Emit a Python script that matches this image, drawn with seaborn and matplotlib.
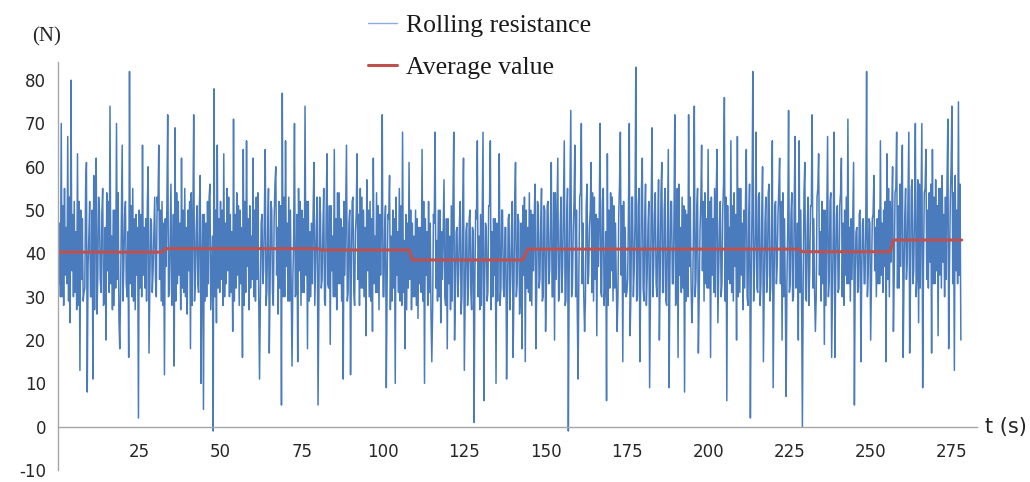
import numpy as np
import pandas as pd
import matplotlib
matplotlib.use("Agg")
import matplotlib.pyplot as plt
import seaborn as sns

# ---- data (rolling resistance, N) ----
# main swings (incl. the spikes), one pair of values per second
force_0_25 = [48, 30, 70, 28, 55, 33, 67, 24, 80, 30,
              52, 27, 63, 13, 50, 29, 31, 61, 8, 52,
              30, 11, 58, 62, 26, 50, 34, 55, 28, 20,
              54, 31, 74, 27, 50, 32, 70, 25, 18, 65,
              29, 52, 33, 16, 82, 30, 55, 27, 49, 2]
force_25_50 = [50, 30, 65, 32, 48, 60, 17, 47, 31, 53,
               34, 50, 65, 29, 52, 12, 48, 72, 30, 56,
               28, 14, 69, 33, 52, 27, 62, 31, 55, 26,
               50, 18, 54, 72, 29, 51, 33, 58, 10, 4,
               49, 30, 52, 56, 27, -1, 78, 24, 65, 31]
force_50_75 = [52, 28, 63, 33, 55, 30, 49, 22, 71, 32,
               54, 28, 50, 16, 64, 31, 66, 27, 51, 34,
               62, 29, 53, 30, 11, 49, 33, 64, 28, 55,
               17, 50, 31, 56, 60, 26, 52, 5, 77, 30,
               66, 29, 53, 33, 14, 70, 30, 15, 55, 28]
force_75_100 = [50, 31, 74, 18, 52, 30, 47, 61, 28, 53,
                5, 49, 32, 55, 29, 63, 33, 19, 51, 30,
                64, 27, 54, 33, 48, 11, 52, 65, 29, 50,
                12, 53, 31, 49, 63, 28, 55, 32, 50, 21,
                57, 30, 52, 22, 62, 31, 54, 27, 49, 72]
force_100_125 = [30, 51, 9, 48, 58, 29, 50, 10, 53, 31,
                 55, 28, 68, 18, 49, 32, 61, 27, 47, 30,
                 50, 25, 46, 31, 64, 10, 48, 28, 52, 26,
                 15, 47, 68, 29, 50, 24, 45, 57, 30, 18,
                 48, 27, 51, 68, 20, 46, 30, 52, 26, 62]
force_125_150 = [13, 47, 28, 50, 31, 45, 1, 48, 66, 27,
                 49, 68, 6, 46, 29, 51, 66, 30, 48, 10,
                 47, 63, 28, 50, 32, 46, 11, 49, 27, 52,
                 16, 61, 30, 47, 26, 18, 51, 15, 50, 31,
                 54, 28, 49, 56, 18, 51, 32, 55, 29, 50]
force_150_175 = [22, 52, 33, 61, 30, 20, 54, 62, 29, 53,
                 31, 66, 28, 55, -1, 73, 30, 52, 65, 27,
                 11, 54, 70, 30, 22, 56, 33, 50, 61, 29,
                 53, 21, 48, 70, 31, 55, 28, 6, 63, 32,
                 54, 29, 51, 33, 22, 56, 68, 15, 52, 30]
force_175_200 = [31, 70, 21, 53, 30, 83, 29, 55, 15, 62,
                 32, 56, 28, 52, 9, 69, 30, 54, 33, 57,
                 20, 61, 31, 55, 29, 64, 9, 52, 33, 72,
                 28, 16, 56, 31, 53, 8, 50, 30, 72, 33,
                 24, 74, 30, 55, 17, 52, 65, 29, 54, 32]
force_200_225 = [64, 16, 53, 31, 55, 64, 24, 52, 30, 56,
                 76, 6, 51, 33, 66, 29, 54, 20, 67, 31,
                 55, 27, 50, 64, 30, 56, 2, 82, 29, 68,
                 32, 54, 28, 60, 15, 53, 31, 56, 29, 66,
                 9, 52, 33, 55, 62, 20, 54, 30, 7, 73]
force_225_250 = [31, 54, 29, 67, 32, 20, 66, 30, 0, 61,
                 30, 53, 28, 51, 72, 31, 22, 55, 63, 29,
                 52, 19, 50, 67, 30, 54, 16, 68, 16, 51,
                 31, 54, 62, 28, 50, 33, 71, 29, 48, 61,
                 5, 46, 31, 50, 15, 48, 33, 82, 30, 47]
force_250_end = [20, 49, 58, 30, 48, 33, 66, 31, 50, 15,
                 63, 30, 52, 60, 22, 55, 68, 32, 56, 65,
                 16, 55, 34, 68, 17, 57, 33, 70, 30, 24,
                 56, 70, 9, 55, 64, 32, 54, 17, 64, 33,
                 57, 21, 55, 32, 58, 30, 53, 71, 18, 60,
                 74, 13, 58, 33, 75, 20]

core_0_25 = [33, 47, 30, 51, 35, 46, 29, 53, 36, 49, 31, 45, 28, 52, 34, 48, 32, 55,
             37, 44, 30, 50, 27, 47, 35, 53, 31, 49, 29, 46, 36, 52, 33, 44, 28, 50,
             34, 54, 31, 47, 37, 49, 30, 45, 33, 51, 29, 48, 35, 46]
core_25_50 = [32, 49, 35, 46, 29, 52, 33, 48, 36, 45, 30, 53, 34, 50, 28, 47, 37, 51,
              31, 44, 33, 49, 29, 54, 35, 47, 32, 50, 30, 46, 36, 52, 28, 48, 34, 45,
              31, 51, 37, 49, 29, 47, 33, 53, 35, 44, 30, 50, 32, 48]
core_50_75 = [34, 50, 30, 47, 36, 53, 31, 45, 29, 49, 35, 51, 33, 46, 28, 52, 37, 48,
              32, 44, 30, 50, 34, 54, 29, 47, 36, 49, 31, 45, 33, 52, 28, 48, 35, 46,
              32, 51, 30, 53, 37, 47, 29, 50, 34, 44, 31, 49, 36, 52]
core_75_100 = [31, 48, 35, 52, 29, 45, 33, 50, 37, 47, 30, 53, 34, 46, 28, 49, 32, 51,
               36, 44, 30, 48, 33, 54, 29, 46, 35, 50, 31, 47, 37, 52, 28, 45, 34, 49,
               32, 53, 30, 46, 36, 50, 29, 48, 33, 44, 31, 51, 35, 47]
core_100_125 = [30, 46, 33, 49, 27, 44, 32, 48, 35, 45, 29, 51, 31, 43, 27, 47, 34, 50,
                30, 44, 28, 48, 33, 46, 29, 52, 35, 45, 31, 47, 27, 49, 32, 43, 30, 50,
                34, 46, 28, 48, 33, 44, 29, 51, 31, 45, 35, 47, 30, 49]
core_125_150 = [29, 45, 32, 48, 27, 46, 34, 50, 30, 44, 28, 49, 33, 47, 31, 51, 27, 45,
                35, 48, 29, 43, 32, 50, 30, 46, 28, 48, 34, 45, 31, 52, 33, 49, 30, 47,
                35, 53, 32, 46, 29, 50, 36, 48, 31, 52, 34, 47, 30, 51]
core_150_175 = [33, 51, 36, 47, 30, 54, 34, 49, 31, 46, 37, 52, 29, 48, 35, 55, 32, 45,
                30, 50, 36, 53, 33, 47, 29, 51, 35, 46, 31, 54, 34, 49, 37, 48, 30, 52,
                33, 45, 28, 50, 36, 53, 32, 47, 30, 49, 35, 51, 31, 46]
core_175_200 = [34, 50, 31, 53, 36, 47, 30, 51, 33, 55, 29, 48, 35, 46, 32, 52, 37, 49,
                30, 45, 34, 54, 31, 50, 28, 47, 36, 52, 33, 48, 30, 55, 35, 46, 32, 51,
                29, 49, 37, 53, 31, 47, 34, 50, 30, 45, 36, 52, 33, 48]
core_200_225 = [32, 52, 35, 48, 30, 54, 36, 47, 33, 50, 29, 53, 34, 46, 31, 51, 37, 49,
                30, 55, 35, 47, 32, 52, 28, 48, 34, 50, 36, 45, 31, 53, 33, 49, 30, 47,
                35, 54, 32, 46, 29, 51, 37, 49, 33, 52, 30, 48, 34, 46]
core_225_250 = [33, 49, 30, 52, 35, 47, 31, 50, 34, 54, 29, 46, 36, 51, 32, 48, 30, 53,
                35, 45, 33, 50, 28, 48, 34, 52, 31, 46, 36, 49, 32, 51, 30, 47, 35, 53,
                33, 46, 34, 48, 36, 45, 32, 49, 35, 47, 33, 46, 36, 48]
core_250_end = [34, 48, 36, 46, 33, 50, 35, 47, 37, 52, 34, 55, 38, 50, 35, 54, 32, 51,
                37, 56, 34, 49, 38, 53, 33, 55, 36, 50, 35, 57, 32, 52, 37, 54, 34, 50,
                38, 56, 33, 53, 36, 51, 35, 55, 38, 49, 34, 57, 37, 52, 33, 54, 36, 50,
                35, 56]

sample_step_s = 0.25

# average value: piecewise constant segments (start time, end time, value)
avg_seg_start = [0.0, 33.0, 81.0, 109.0, 144.5, 229.0, 257.0]
avg_seg_end = [32.0, 80.0, 108.0, 143.0, 228.0, 256.0, 278.0]
avg_seg_value = [40.3, 41.1, 40.8, 38.5, 41.0, 40.4, 43.1]

x_tick_values = [25, 50, 75, 100, 125, 150, 175, 200, 225, 250, 275]
y_tick_values = [-10, 0, 10, 20, 30, 40, 50, 60, 70, 80]

# ---- build tables: each second = swing high, core low, core high, swing low ----
main_chunks = [force_0_25, force_25_50, force_50_75, force_75_100, force_100_125,
               force_125_150, force_150_175, force_175_200, force_200_225,
               force_225_250, force_250_end]
core_chunks = [core_0_25, core_25_50, core_50_75, core_75_100, core_100_125,
               core_125_150, core_150_175, core_175_200, core_200_225,
               core_225_250, core_250_end]
force = []
for main, core in zip(main_chunks, core_chunks):
    for k in range(len(main) // 2):
        force.append(main[2 * k])
        if 2 * k + 1 < len(core):
            force.append(core[2 * k])
            force.append(core[2 * k + 1])
        force.append(main[2 * k + 1])
df_force = pd.DataFrame({"t": np.arange(len(force)) * sample_step_s, "F": force})

avg_t, avg_v = [], []
for s, e, v in zip(avg_seg_start, avg_seg_end, avg_seg_value):
    avg_t += [s, e]
    avg_v += [v, v]
df_avg = pd.DataFrame({"t": avg_t, "F": avg_v})

# ---- plot ----
sns.set_style("white")
plt.rcParams["font.family"] = ["DejaVu Sans"]
plt.rcParams["axes.unicode_minus"] = False

fig = plt.figure(figsize=(10.30, 4.82), dpi=100)
ax = fig.add_axes([0.0563, 0.0249, 0.8922, 0.8465])

blue = "#4A7CBD"
red = "#C0504D"
sns.lineplot(data=df_force, x="t", y="F", ax=ax, color=blue, linewidth=1.1,
             estimator=None, sort=False, label="Rolling resistance")
sns.lineplot(data=df_avg, x="t", y="F", ax=ax, color=red, linewidth=2.2,
             estimator=None, sort=False, label="Average value")

ax.set_xlim(0, 282.7)
ax.set_ylim(-10, 84.2)
ax.set_xticks(x_tick_values)
ax.set_yticks(y_tick_values)
ax.set_xlabel("")
ax.set_ylabel("")

axis_grey = "#A6A6A6"
for side in ["top", "right"]:
    ax.spines[side].set_visible(False)
ax.spines["bottom"].set_position(("data", 0))
ax.spines["bottom"].set_color(axis_grey)
ax.spines["left"].set_color(axis_grey)
ax.spines["bottom"].set_linewidth(1.0)
ax.spines["left"].set_linewidth(1.0)

ax.tick_params(axis="x", direction="out", length=4, width=1, color=axis_grey,
               labelsize=12, labelcolor="#262626", pad=8)
ax.tick_params(axis="y", direction="out", length=4, width=1, color=axis_grey,
               labelsize=12, labelcolor="#262626", pad=4.6)

serif = ["Liberation Serif", "DejaVu Serif"]
fig.text(0.0456, 0.923, "(N)", fontsize=15, family=serif, color="#262626",
         ha="center", va="center")
fig.text(0.956, 0.114, "t (s)", fontsize=15, color="#262626",
         ha="left", va="center")

leg = ax.legend(loc="upper left", bbox_to_anchor=(0.357, 0.97),
                bbox_transform=fig.transFigure, frameon=False,
                prop={"family": serif, "size": 18.5},
                handlelength=1.15, handletextpad=0.35, labelspacing=0.72,
                borderpad=0, borderaxespad=0)
leg.get_lines()[0].set_linewidth(1.0)
leg.get_lines()[0].set_color("#8FAADC")
for txt in leg.get_texts():
    txt.set_color("#1a1a1a")

fig.savefig("out.png", dpi=100)
